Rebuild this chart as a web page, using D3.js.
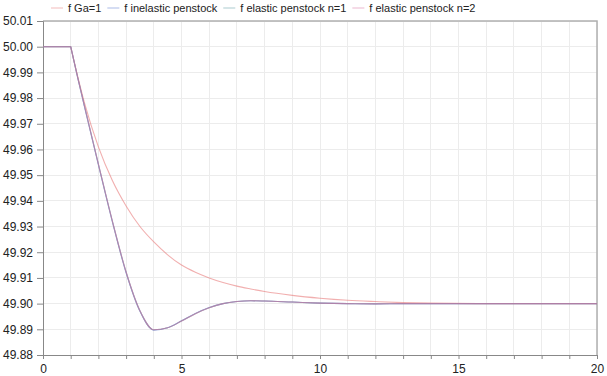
<!DOCTYPE html>
<html>
<head>
<meta charset="utf-8">
<script src="https://cdn.jsdelivr.net/npm/d3@7"></script>
<style>
  html, body { margin: 0; padding: 0; background: #fff; }
  svg { display: block; font-family: "Liberation Sans", Arial, sans-serif; }
</style>
</head>
<body>
<svg id="chart" width="607" height="376"></svg>
<script>
// Simulation time points (s)
const time = [0, 1, 1.25, 1.5, 2, 2.5, 3, 3.5, 4, 4.5, 5, 5.5, 6, 6.5, 7, 7.5, 8, 9, 10, 11, 12, 13, 14, 16, 20];

// Grid frequency (Hz) for each model
const fGa1 = [50.000, 50.000, 49.9885, 49.978, 49.961, 49.948, 49.938, 49.930, 49.924, 49.919, 49.915, 49.9122, 49.910, 49.9082, 49.9068, 49.9057, 49.9047, 49.9032, 49.9021, 49.9013, 49.9008, 49.9004, 49.9002, 49.9000, 49.9000];
const fInelastic = [50.000, 50.000, 49.988, 49.9765, 49.954, 49.932, 49.912, 49.897, 49.8897, 49.8906, 49.8933, 49.8962, 49.8985, 49.9000, 49.9008, 49.9011, 49.9010, 49.9006, 49.9002, 49.9000, 49.8999, 49.9000, 49.9000, 49.9000, 49.9000];
const fElasticN1 = [50.000, 50.000, 49.9882, 49.9768, 49.9543, 49.9323, 49.9123, 49.8972, 49.8898, 49.8906, 49.8932, 49.8961, 49.8984, 49.9000, 49.9008, 49.9011, 49.9010, 49.9006, 49.9002, 49.9000, 49.8999, 49.9000, 49.9000, 49.9000, 49.9000];
const fElasticN2 = [50.000, 50.000, 49.9882, 49.9768, 49.9543, 49.9323, 49.9123, 49.8972, 49.8898, 49.8906, 49.8932, 49.8961, 49.8984, 49.9000, 49.9008, 49.9011, 49.9010, 49.9006, 49.9002, 49.9000, 49.8999, 49.9000, 49.9000, 49.9000, 49.9000];

const seriesNames = ["f Ga=1", "f inelastic penstock", "f elastic penstock n=1", "f elastic penstock n=2"];
const seriesValues = [fGa1, fInelastic, fElasticN1, fElasticN2];
const seriesColors = ["#e87a7a", "#5a78d0", "#5a9aa0", "#d870a0"];

// Axis ticks
const xTicks = [0, 5, 10, 15, 20];
const xMinorTicks = d3.range(0, 21, 1);
const yTicks = [50.01, 50.00, 49.99, 49.98, 49.97, 49.96, 49.95, 49.94, 49.93, 49.92, 49.91, 49.90, 49.89, 49.88];

const svg = d3.select("#chart");
const margin = { left: 43, right: 10, top: 21, bottom: 21 };
const W = 607, H = 376;
const x = d3.scaleLinear().domain([0, 20]).range([margin.left, W - margin.right]);
const y = d3.scaleLinear().domain([49.88, 50.01]).range([H - margin.bottom, margin.top]);

// grid
const grid = svg.append("g");
grid.selectAll("line.v").data(xMinorTicks).join("line")
  .attr("x1", d => x(d)).attr("x2", d => x(d))
  .attr("y1", y(50.01)).attr("y2", y(49.88))
  .attr("stroke", "#ececec").attr("stroke-width", 1).attr("shape-rendering", "crispEdges");
grid.selectAll("line.h").data(yTicks).join("line")
  .attr("x1", x(0)).attr("x2", x(20))
  .attr("y1", d => y(d)).attr("y2", d => y(d))
  .attr("stroke", "#ececec").attr("stroke-width", 1).attr("shape-rendering", "crispEdges");

// top / right frame
svg.append("path")
  .attr("d", `M${x(0)},${y(50.01)}H${x(20)}V${y(49.88)}`)
  .attr("fill", "none").attr("stroke", "#b0b0b0").attr("stroke-width", 1.5);

// axes
const xAxis = d3.axisBottom(x).tickValues(xMinorTicks).tickSize(4)
  .tickFormat(d => xTicks.includes(d) ? d3.format("d")(d) : "");
const gx = svg.append("g").attr("transform", `translate(0,${y(49.88)})`).call(xAxis);
const yAxis = d3.axisLeft(y).tickValues(yTicks).tickSize(6).tickFormat(d3.format(".2f"));
const gy = svg.append("g").attr("transform", `translate(${x(0)},0)`).call(yAxis);
[gx, gy].forEach(g => {
  g.select(".domain").attr("stroke", "#888");
  g.selectAll(".tick line").attr("stroke", "#888");
  g.selectAll("text").attr("font-size", 12).attr("fill", "#222")
    .attr("font-family", "Liberation Sans, Arial, sans-serif");
});
gx.selectAll("text").attr("dy", "0.95em");
gy.selectAll("text").attr("dx", "-1");

// curves: steady state before the load step, then the smooth transient
const pts = v => v.map((f, i) => [time[i], f]);
const flat = d3.line().x(d => x(d[0])).y(d => y(d[1]));
const smooth = d3.line().x(d => x(d[0])).y(d => y(d[1])).curve(d3.curveMonotoneX);
const curves = svg.append("g");
seriesValues.forEach((v, i) => {
  const p = pts(v);
  const stepIdx = time.indexOf(1);
  curves.append("path")
    .attr("d", flat(p.slice(0, stepIdx + 1)) + smooth(p.slice(stepIdx)).replace(/^M/, "L"))
    .attr("fill", "none")
    .attr("stroke", seriesColors[i])
    .attr("stroke-opacity", 0.6)
    .attr("stroke-width", 1.1)
    .attr("stroke-linejoin", "round");
});

// legend laid out left to right
const lg = svg.append("g").attr("transform", "translate(51,8)");
let lx = 0;
seriesNames.forEach((name, i) => {
  const g = lg.append("g").attr("transform", `translate(${lx},0)`);
  g.append("line").attr("x1", 0).attr("x2", 12).attr("y1", 0).attr("y2", 0)
    .attr("stroke", seriesColors[i]).attr("stroke-opacity", 0.5).attr("stroke-width", 1);
  const t = g.append("text").attr("x", 17).attr("y", 0).attr("dy", "0.35em")
    .attr("font-size", 11).attr("fill", "#222").text(name);
  lx += 17 + t.node().getComputedTextLength() + 6;
});
</script>
</body>
</html>
